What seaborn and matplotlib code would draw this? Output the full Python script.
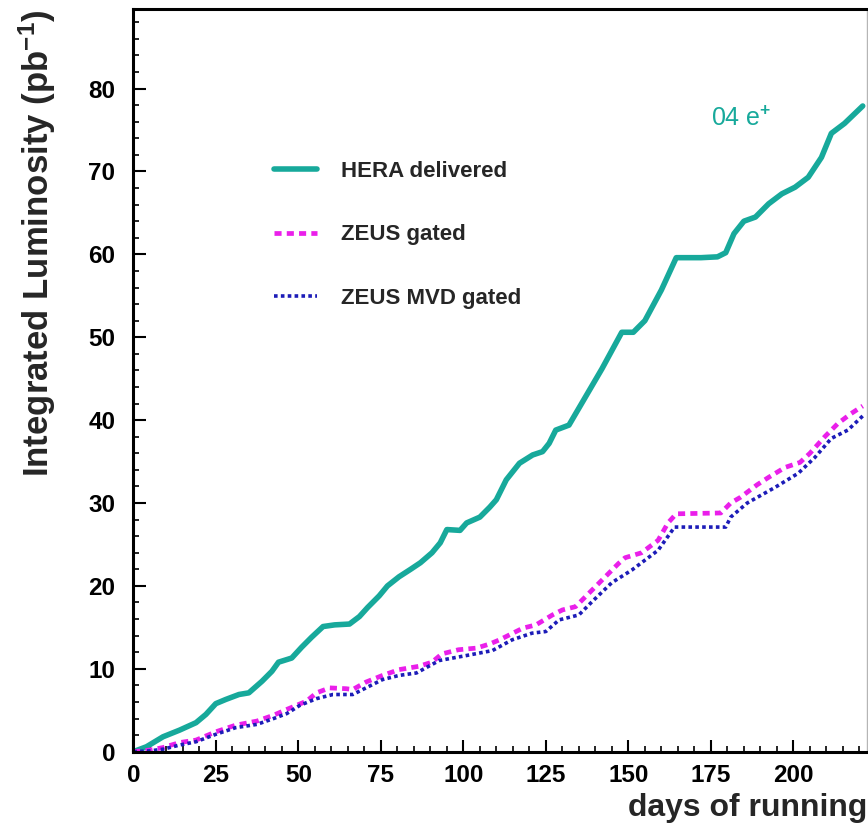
import numpy as np
import pandas as pd
import seaborn as sns
import matplotlib.pyplot as plt
from matplotlib.ticker import MultipleLocator

# HERA delivered luminosity (days, pb^-1)
hera_days = [0, 4, 9, 14, 19, 22, 25, 28, 32, 35, 39, 42, 44, 48, 51, 54, 57.5, 61,
             65.5, 68.5, 71, 74.5, 77, 80.5, 84, 87, 90.5, 93, 95, 99, 101, 105, 108,
             110, 113, 117, 121, 124, 126, 128, 132, 137, 142, 148, 151.5, 155, 160,
             164.5, 172, 177, 179.5, 182, 185, 188.5, 192.5, 196.5, 200.5, 204.5,
             208.5, 211.5, 215.5, 221]
hera_lumi = [0, 0.6, 1.8, 2.6, 3.5, 4.5, 5.8, 6.3, 6.9, 7.1, 8.5, 9.7, 10.8, 11.3, 12.6,
             13.8, 15.1, 15.3, 15.4, 16.3, 17.4, 18.8, 20.0, 21.1, 22.0, 22.8, 24.0, 25.2,
             26.8, 26.7, 27.6, 28.3, 29.5, 30.4, 32.8, 34.8, 35.8, 36.2, 37.2, 38.8, 39.4,
             42.8, 46.2, 50.6, 50.6, 52.0, 55.7, 59.6, 59.6, 59.7, 60.2, 62.5, 64.0, 64.5,
             66.1, 67.3, 68.1, 69.3, 71.7, 74.6, 75.8, 77.9]

# ZEUS gated
gated_days = [0, 5, 9, 14, 19, 25, 31, 37.5, 42.5, 46.5, 52.5, 55.5, 59.5, 64.5, 66.5,
              70.5, 75.5, 80.5, 86.5, 90.5, 93.5, 98.5, 104, 108, 111, 114, 118, 122,
              127, 130, 134, 137, 141, 145, 147, 149, 154, 159, 162, 164.5, 178, 181,
              184, 189, 192.5, 197.5, 202, 205, 209.5, 213.5, 217.5, 221]
gated_lumi = [0, 0.2, 0.5, 1.1, 1.4, 2.4, 3.2, 3.7, 4.4, 5.1, 6.1, 7.1, 7.7, 7.6, 7.5,
              8.4, 9.2, 9.9, 10.3, 10.8, 11.8, 12.3, 12.5, 13.0, 13.5, 14.1, 14.9, 15.3,
              16.5, 17.1, 17.5, 18.7, 20.3, 21.9, 22.7, 23.4, 24.0, 25.5, 27.6, 28.7,
              28.8, 30.0, 30.7, 32.2, 33.1, 34.3, 34.9, 36.0, 38.0, 39.6, 40.8, 41.7]

# ZEUS MVD gated
mvd_days = [0, 5, 9, 14, 19, 25, 31, 37.5, 42.5, 46.5, 50.5, 55.5, 60.5, 66.5, 70.5,
            75.5, 80.5, 85.8, 92.7, 100.9, 108.8, 114.8, 120.8, 125, 129, 135, 139,
            145, 151, 159, 164, 179.5, 181, 186, 194.5, 201.5, 206.5, 211.5, 216.5, 221]
mvd_lumi = [0, 0.1, 0.3, 0.8, 1.2, 2.1, 2.9, 3.3, 4.0, 4.6, 5.6, 6.4, 6.9, 6.9, 7.7,
            8.7, 9.2, 9.5, 11.0, 11.6, 12.2, 13.5, 14.3, 14.5, 15.9, 16.5, 18.1, 20.4,
            21.9, 24.3, 27.1, 27.1, 28.3, 30.0, 31.9, 33.6, 35.5, 37.8, 38.8, 40.5]

teal = "#17a99b"
magenta = "#ea1fea"
blue = "#1c1cb8"

sns.set_theme(style="ticks")
plt.rcParams['font.family'] = ['Liberation Sans', 'DejaVu Sans']
plt.rcParams['font.weight'] = 'bold'
plt.rcParams['mathtext.fontset'] = 'custom'
plt.rcParams['mathtext.rm'] = 'Liberation Sans:bold'
plt.rcParams['mathtext.it'] = 'Liberation Sans:bold'
plt.rcParams['mathtext.bf'] = 'Liberation Sans:bold'

fig = plt.figure(figsize=(8.68, 8.32), dpi=100)
ax = fig.add_axes([133.3 / 868, 80.3 / 832, (867 - 133.3) / 868, (751.7 - 9) / 832])

sns.lineplot(x=hera_days, y=hera_lumi, ax=ax, color=teal, linewidth=4.0,
             label="HERA delivered", sort=False)
sns.lineplot(x=gated_days, y=gated_lumi, ax=ax, color=magenta, linewidth=3.4,
             linestyle=(0, (1.5, 1.1)), label="ZEUS gated", sort=False)
sns.lineplot(x=mvd_days, y=mvd_lumi, ax=ax, color=blue, linewidth=2.6,
             linestyle=(0, (1.0, 0.9)), label="ZEUS MVD gated", sort=False)

ax.set_xlim(0, 222.3)
ax.set_ylim(0, 89.6)
ax.xaxis.set_major_locator(MultipleLocator(25))
ax.xaxis.set_minor_locator(MultipleLocator(5))
ax.yaxis.set_major_locator(MultipleLocator(10))
ax.yaxis.set_minor_locator(MultipleLocator(2))
ax.tick_params(which='major', direction='in', length=9, width=1.5, labelsize=17.5,
               color='black', labelcolor='black')
ax.tick_params(which='minor', direction='in', length=4.5, width=1.2, color='black')
ax.tick_params(axis='x', which='major', pad=9)
ax.tick_params(axis='y', which='major', pad=13)

for side in ['left', 'bottom', 'top']:
    ax.spines[side].set_linewidth(2.2)
    ax.spines[side].set_color('black')
ax.spines['right'].set_linewidth(1.0)
ax.spines['right'].set_color('#b5b5b5')

ax.set_xlabel("days of running", fontsize=23, fontweight='bold', loc='right', labelpad=4)
ax.set_ylabel("Integrated Luminosity (pb$^{-1}$)", fontsize=25, fontweight='bold',
              loc='top', labelpad=22)

ax.text(175, 75.5, "04 e$^{+}$", color=teal, fontsize=18, fontweight='normal',
        va='baseline', ha='left', family='Liberation Sans')

leg = ax.legend(loc='upper left', bbox_to_anchor=(0.1918, 0.795), frameon=False,
                fontsize=16, handlelength=1.95, handletextpad=1.05, labelspacing=1.9,
                borderpad=0, borderaxespad=0)
for t in leg.get_texts():
    t.set_fontweight('bold')

fig.savefig("out.png", dpi=100, facecolor='white')
